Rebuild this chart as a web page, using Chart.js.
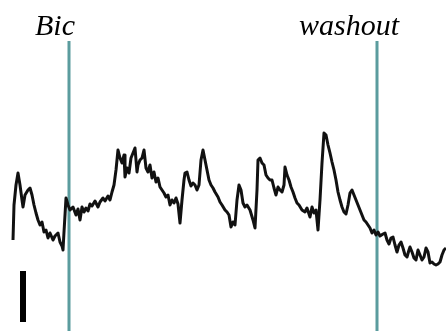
<!DOCTYPE html>
<html>
<head>
<meta charset="utf-8">
<script src="https://cdn.jsdelivr.net/npm/chart.js@4/dist/chart.umd.min.js"></script>
<style>
  html, body { margin: 0; padding: 0; background: #fff; }
  #wrap { width: 446px; height: 331px; position: relative; }
</style>
</head>
<body>
<div id="wrap"><canvas id="trace"></canvas></div>
<script>
// recording time (arbitrary units) and membrane signal
const traceTime = [
  13, 14, 16, 18, 20, 22, 23, 25, 28, 30,
  32, 34, 36, 38, 40, 42, 44, 46, 48, 50,
  53, 55, 58, 60, 62, 63, 64, 66, 68, 70,
  73, 76, 78, 80, 82, 84, 86, 88, 90, 92,
  95, 98, 100, 103, 105, 108, 110, 112, 114, 116,
  118, 120, 122, 124, 125, 127, 129, 131, 133, 135,
  137, 138, 140, 142, 144, 146, 148, 150, 152, 154,
  156, 158, 160, 162, 164, 166, 168, 170, 172, 174,
  176, 178, 180, 182, 184, 185, 187, 189, 191, 193,
  195, 197, 199, 201, 203, 205, 207, 209, 211, 213,
  215, 218, 220, 222, 225, 227, 229, 231, 233, 235,
  237, 239, 241, 243, 245, 247, 250, 253, 255, 257,
  258, 260, 262, 264, 266, 268, 270, 272, 274, 276,
  278, 280, 282, 284, 285, 287, 289, 291, 293, 295,
  297, 299, 302, 305, 307, 310, 312, 314, 316, 318,
  320, 322, 324, 326, 328, 330, 332, 334, 336, 338,
  340, 342, 344, 346, 348, 350, 352, 354, 356, 358,
  360, 362, 364, 366, 368, 370, 372, 374, 376, 378,
  380, 383, 385, 387, 389, 391, 393, 395, 397, 399,
  401, 403, 405, 407, 409, 410, 412, 414, 416, 418,
  420, 422, 424, 426, 428, 430, 432, 434, 436, 438,
  440, 442, 444, 446
];
const traceSignal = [
  91, 126, 146, 158, 146, 131, 124, 136, 141, 143,
  136, 126, 118, 111, 106, 109, 99, 101, 93, 98,
  91, 95, 98, 89, 85, 81, 99, 133, 126, 121,
  124, 116, 122, 111, 124, 119, 123, 120, 127, 125,
  130, 124, 129, 133, 130, 135, 131, 139, 146, 161,
  181, 173, 168, 176, 154, 163, 158, 173, 178, 183,
  159, 166, 171, 173, 181, 163, 159, 166, 153, 159,
  149, 153, 144, 141, 138, 134, 136, 126, 131, 128,
  133, 127, 108, 131, 151, 158, 159, 151, 145, 148,
  146, 141, 146, 171, 181, 171, 161, 151, 146, 143,
  139, 134, 129, 126, 121, 119, 116, 104, 109, 106,
  131, 146, 141, 128, 124, 126, 121, 111, 103, 141,
  171, 173, 168, 166, 156, 153, 151, 151, 143, 136,
  144, 141, 139, 146, 164, 156, 151, 144, 139, 133,
  128, 126, 121, 119, 123, 114, 124, 118, 121, 101,
  131, 168, 198, 196, 186, 178, 169, 161, 151, 139,
  131, 124, 119, 117, 126, 138, 141, 136, 131, 126,
  121, 116, 111, 109, 106, 103, 98, 101, 96, 99,
  95, 97, 98, 91, 87, 93, 94, 86, 79, 86,
  89, 83, 76, 74, 81, 84, 79, 73, 71, 81,
  76, 71, 74, 83, 79, 68, 69, 67, 66, 67,
  69, 76, 81, 83
];

// drug application / washout markers
const markerTime = [69, 377];
const markerLabels = ['Bic', 'washout'];
const markerRange = [0, 290];

// vertical scale bar
const scaleBarTime = 23;
const scaleBarRange = [9, 60];

const teal = '#5b9c9e';

const datasets = [
  {
    data: traceTime.map((t, i) => ({ x: t, y: traceSignal[i] })),
    borderColor: '#111',
    borderWidth: 3,
    borderJoinStyle: 'round',
    pointRadius: 0,
    tension: 0
  },
  {
    data: [{ x: scaleBarTime, y: scaleBarRange[0] }, { x: scaleBarTime, y: scaleBarRange[1] }],
    borderColor: '#000',
    borderWidth: 6,
    borderCapStyle: 'butt',
    pointRadius: 0
  }
];
markerTime.forEach(t => {
  datasets.push({
    data: [{ x: t, y: markerRange[0] }, { x: t, y: markerRange[1] }],
    borderColor: teal,
    borderWidth: 3,
    borderCapStyle: 'butt',
    pointRadius: 0,
    order: 5
  });
});

// labels sit above the markers, shifted left like in the figure
const labelOffsets = [-14, -28];
const markerText = {
  id: 'markerText',
  afterDraw(chart) {
    const ctx = chart.ctx;
    const xs = chart.scales.x;
    ctx.save();
    ctx.fillStyle = '#000';
    ctx.font = 'italic 30px "Liberation Serif", "Times New Roman", serif';
    ctx.textAlign = 'center';
    ctx.textBaseline = 'alphabetic';
    markerLabels.forEach((lbl, i) => {
      const px = xs.getPixelForValue(markerTime[i]) + labelOffsets[i];
      ctx.fillText(lbl, px, chart.chartArea.top + 35);
    });
    ctx.restore();
  }
};

new Chart(document.getElementById('trace'), {
  type: 'line',
  data: { datasets },
  options: {
    responsive: true,
    maintainAspectRatio: false,
    animation: false,
    layout: { padding: 0 },
    plugins: { legend: { display: false }, tooltip: { enabled: false } },
    scales: {
      x: { type: 'linear', min: 0, max: 446, display: false },
      y: { min: 0, max: 331, display: false }
    }
  },
  plugins: [markerText]
});
</script>
</body>
</html>
